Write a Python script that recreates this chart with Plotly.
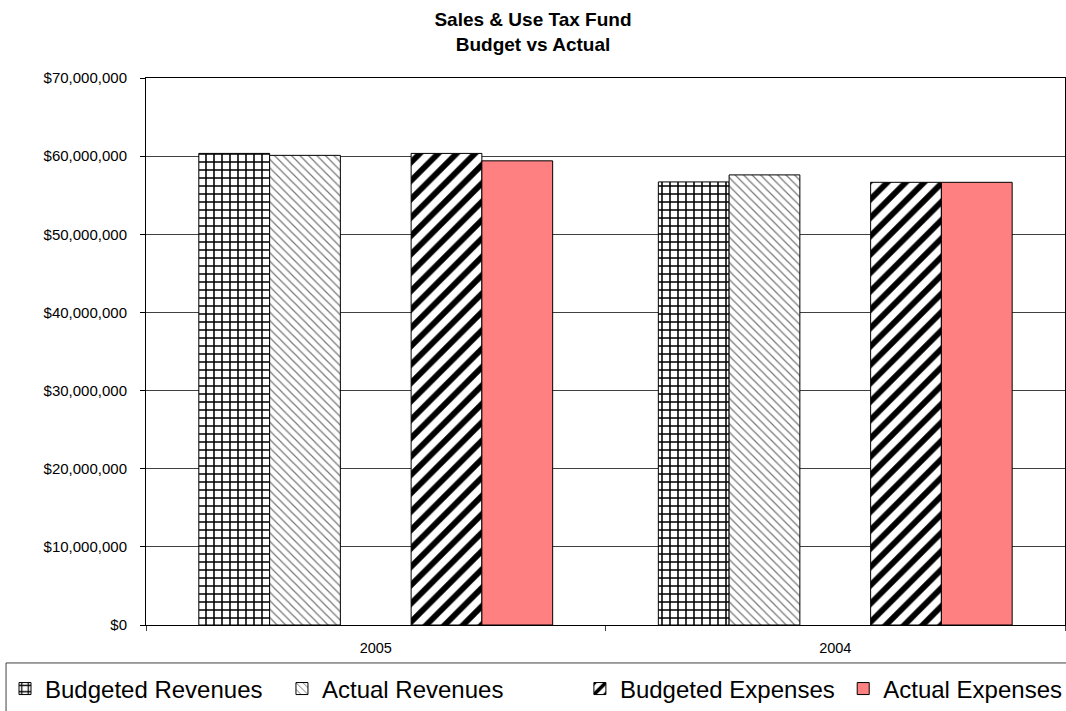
import plotly.graph_objects as go

# Fiscal years on the category axis
years = ["2005", "2004"]

# Fund totals in dollars
budgeted_revenues = [60350000, 56700000]
actual_revenues = [60100000, 57600000]
spacer = [None, None]  # empty slot between revenue and expense bars
budgeted_expenses = [60350000, 56650000]
actual_expenses = [59400000, 56650000]

y_ticks = [0, 10000000, 20000000, 30000000, 40000000, 50000000, 60000000, 70000000]
y_tick_text = ["$0", "$10,000,000", "$20,000,000", "$30,000,000",
               "$40,000,000", "$50,000,000", "$60,000,000", "$70,000,000"]

FONT = "Arial, Liberation Sans, sans-serif"
outline = dict(color="black", width=1)

fig = go.Figure()
fig.add_trace(go.Bar(
    x=years, y=budgeted_revenues, name="Budgeted Revenues", legend="legend",
    marker=dict(color="white", line=outline,
                pattern=dict(shape="+", size=8, solidity=0.35, fgopacity=1,
                             fgcolor="black", bgcolor="white")),
))
fig.add_trace(go.Bar(
    x=years, y=actual_revenues, name="Actual Revenues", legend="legend2",
    marker=dict(color="white", line=outline,
                pattern=dict(shape="\\", size=6, solidity=0.2, fgopacity=1,
                             fgcolor="#777777", bgcolor="white")),
))
fig.add_trace(go.Bar(
    x=years, y=spacer, name=" ", showlegend=False,
    marker=dict(color="white", line=dict(width=0)),
))
fig.add_trace(go.Bar(
    x=years, y=budgeted_expenses, name="Budgeted Expenses", legend="legend3",
    marker=dict(color="white", line=outline,
                pattern=dict(shape="/", size=13, solidity=0.45, fgopacity=1,
                             fgcolor="black", bgcolor="white")),
))
fig.add_trace(go.Bar(
    x=years, y=actual_expenses, name="Actual Expenses", legend="legend4",
    marker=dict(color="#FF8080", line=outline),
))

legend_style = dict(
    orientation="h", xref="container", yref="container",
    xanchor="left", yanchor="middle", y=0.031,
    font=dict(family=FONT, size=24, color="black"),
    bgcolor="rgba(0,0,0,0)", borderwidth=0,
)

fig.update_layout(
    width=1066, height=711,
    margin=dict(l=146, r=1, t=78, b=86),
    paper_bgcolor="white", plot_bgcolor="white",
    font=dict(family=FONT, color="black"),
    barmode="group", bargap=0.23, bargroupgap=0,
    title=dict(
        text="<b>Sales & Use Tax Fund</b><br><b>Budget vs Actual</b>",
        x=0.5, xref="container", xanchor="center",
        y=0.963, yref="container", yanchor="top",
        font=dict(family=FONT, size=19, color="black"),
    ),
    legend=dict(legend_style, x=0.0047),
    legend2=dict(legend_style, x=0.2645),
    legend3=dict(legend_style, x=0.544),
    legend4=dict(legend_style, x=0.791),
    xaxis=dict(
        type="category", showline=True, linecolor="black", linewidth=1,
        mirror=True, ticks="outside", tickson="boundaries", ticklen=5,
        tickcolor="#404040", ticklabelstandoff=10,
        tickfont=dict(family=FONT, size=14.5, color="black"),
        showgrid=False,
    ),
    yaxis=dict(
        range=[0, 70000000], tickvals=y_ticks, ticktext=y_tick_text,
        showline=True, linecolor="black", linewidth=1, mirror=True,
        ticks="outside", ticklen=5, tickcolor="black", ticklabelstandoff=10,
        tickfont=dict(family=FONT, size=15, color="black"),
        showgrid=True, gridcolor="#404040", gridwidth=1, zeroline=False,
    ),
    shapes=[dict(
        type="rect", xref="paper", yref="paper",
        x0=-0.1523, x1=1.2, y0=-0.0694, y1=-0.2,
        line=dict(color="#404040", width=1), fillcolor="rgba(0,0,0,0)",
        layer="above",
    )],
)

fig.write_html("out.html")
